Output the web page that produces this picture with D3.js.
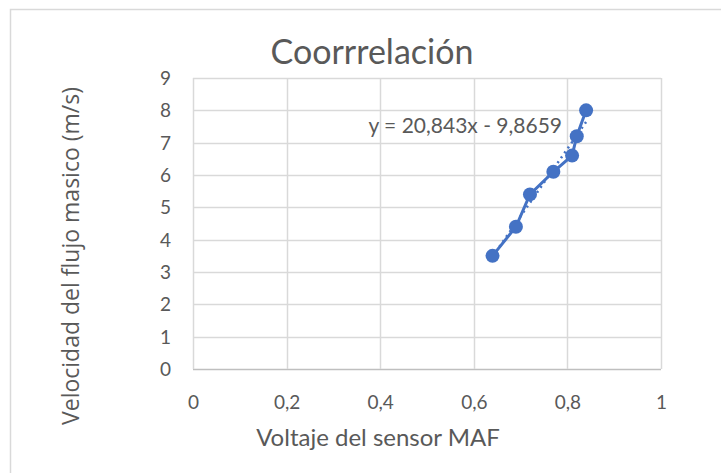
<!DOCTYPE html>
<html>
<head>
<meta charset="utf-8">
<script src="https://cdnjs.cloudflare.com/ajax/libs/d3/7.8.5/d3.min.js"></script>
<style>
  html, body { margin: 0; padding: 0; background: #fff; }
  svg { display: block; }
  text { font-family: Lato, "Open Sans", sans-serif; fill: #595959; }
</style>
</head>
<body>
<svg id="chart" width="721" height="473"></svg>
<script>
// MAF sensor voltage vs. mass-flow velocity
const voltaje = [0.64, 0.69, 0.72, 0.77, 0.81, 0.82, 0.84];
const velocidad = [3.5, 4.4, 5.4, 6.1, 6.6, 7.2, 8.0];
const xTicks = [0, 0.2, 0.4, 0.6, 0.8, 1];
const yTicks = [0, 1, 2, 3, 4, 5, 6, 7, 8, 9];
const pendiente = 20.843;
const intercepto = -9.8659;

const svg = d3.select("#chart");
const W = 721, H = 473;
const plot = { left: 193, right: 661, top: 78, bottom: 369 };

// outer chart frame
svg.append("rect")
  .attr("x", 10.5).attr("y", 9.5)
  .attr("width", W).attr("height", H)
  .attr("fill", "#fff").attr("stroke", "#d9d9d9").attr("stroke-width", 1.5);

const x = d3.scaleLinear().domain([0, 1]).range([plot.left, plot.right]);
const y = d3.scaleLinear().domain([0, 9]).range([plot.bottom, plot.top]);

const fmt = d => d === 0 || d === 1 ? String(d) : String(d).replace(".", ",");

// gridlines
const grid = svg.append("g");
grid.selectAll("line.h").data(yTicks).join("line")
  .attr("x1", plot.left).attr("x2", plot.right)
  .attr("y1", d => Math.round(y(d)) + 0.5).attr("y2", d => Math.round(y(d)) + 0.5)
  .attr("stroke", d => d === 0 ? "#bfbfbf" : "#d9d9d9").attr("stroke-width", 1.5);
grid.selectAll("line.v").data(xTicks).join("line")
  .attr("y1", plot.top).attr("y2", plot.bottom)
  .attr("x1", d => Math.round(x(d)) + 0.5).attr("x2", d => Math.round(x(d)) + 0.5)
  .attr("stroke", "#d9d9d9").attr("stroke-width", 1.5);

// axes (labels only, lines come from the grid)
const yAxis = svg.append("g")
  .attr("transform", `translate(${plot.left - 19},0)`)
  .call(d3.axisLeft(y).tickValues(yTicks).tickSize(0).tickFormat(fmt));
const xAxis = svg.append("g")
  .attr("transform", `translate(0,${plot.bottom + 23})`)
  .call(d3.axisBottom(x).tickValues(xTicks).tickSize(0).tickFormat(fmt));
[yAxis, xAxis].forEach(a => {
  a.select(".domain").remove();
  a.selectAll("text").style("font-size", "19px").attr("fill", "#595959");
});
yAxis.selectAll("text").attr("dy", "0.35em");
xAxis.selectAll("text").attr("dy", "0.75em");

// series line + markers
const pts = voltaje.map((v, i) => [v, velocidad[i]]);
svg.append("path")
  .datum(pts)
  .attr("fill", "none").attr("stroke", "#4472C4").attr("stroke-width", 3)
  .attr("d", d3.line().x(d => x(d[0])).y(d => y(d[1])));

// linear trendline (dotted)
const xr = d3.extent(voltaje);
svg.append("line")
  .attr("x1", x(xr[0])).attr("y1", y(pendiente * xr[0] + intercepto))
  .attr("x2", x(xr[1])).attr("y2", y(pendiente * xr[1] + intercepto))
  .attr("stroke", "#4472C4").attr("stroke-width", 2.5)
  .attr("stroke-dasharray", "2,4");

svg.append("g").selectAll("circle").data(pts).join("circle")
  .attr("cx", d => x(d[0])).attr("cy", d => y(d[1])).attr("r", 7)
  .attr("fill", "#4472C4");

// trendline equation
svg.append("text")
  .attr("x", 562).attr("y", 133).attr("text-anchor", "end")
  .style("font-size", "21px")
  .text("y = 20,843x - 9,8659");

// title
svg.append("text")
  .attr("x", 372).attr("y", 64).attr("text-anchor", "middle")
  .style("font-size", "34px")
  .text("Coorrrelación");

// axis titles
svg.append("text")
  .attr("x", 378).attr("y", 446).attr("text-anchor", "middle")
  .style("font-size", "24px")
  .text("Voltaje del sensor MAF");
svg.append("text")
  .attr("transform", "translate(79,256) rotate(-90)")
  .attr("text-anchor", "middle")
  .style("font-family", "'Open Sans', sans-serif")
  .style("font-size", "23px")
  .text("Velocidad del flujo masico (m/s)");
</script>
</body>
</html>
